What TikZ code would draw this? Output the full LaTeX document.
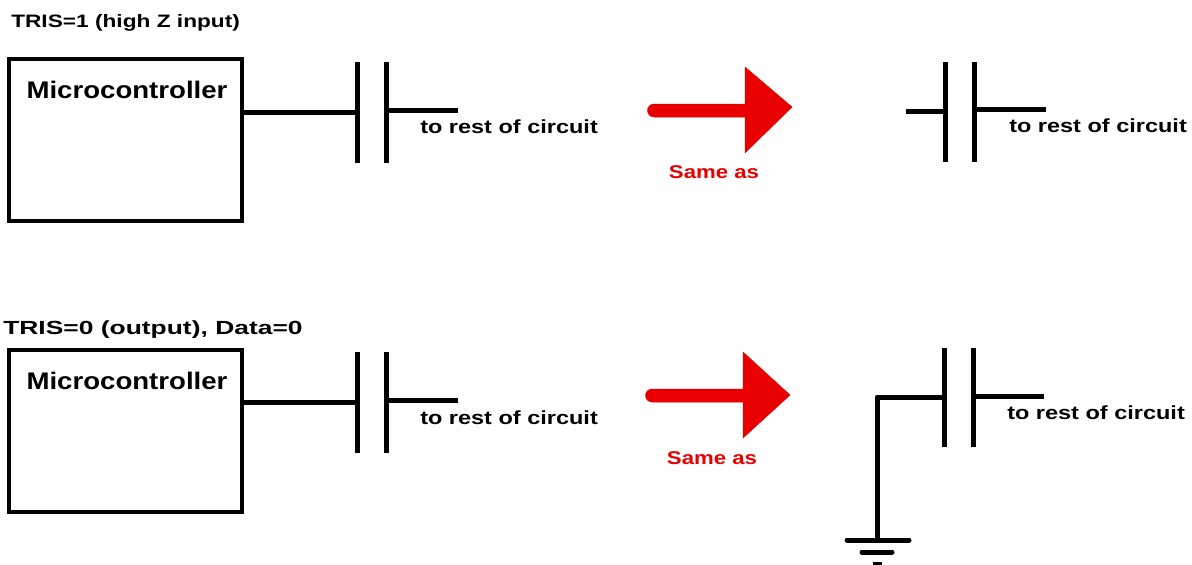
\documentclass[tikz,border=0pt]{standalone}
\usepackage{fontspec}
\setmainfont{Liberation Sans}[Scale=1.0]
\definecolor{arrowred}{HTML}{E80000}
\tikzset{
  wire/.style={line width=5pt,draw=black},
  plate/.style={line width=5pt,draw=black},
  mcubox/.style={draw=black,line width=4pt,minimum width=233pt,minimum height=162pt,inner sep=0pt},
  txt/.style={inner sep=0pt,transform shape,font=\bfseries\fontsize{#1}{#1}\selectfont},
  same/.style={text=arrowred,inner sep=0pt,font=\bfseries\fontsize{18.5}{18.5}\selectfont},
  bigarrow/.style={fill=arrowred,draw=arrowred,line width=0.5pt,line join=round}
}
\begin{document}
\begin{tikzpicture}[x=1pt,y=-1pt]
\useasboundingbox[fill=white] (0,0) rectangle (1192,565);
% titles
\node[txt=18,xscale=1.26,anchor=west] (t1) at (11,23) {TRIS=1 (high Z input)};
\node[txt=19,xscale=1.39,anchor=west] (t2) at (3,330) {TRIS=0 (output), Data=0};
% top left
\node[mcubox] (b1) at (125.5,140) {};
\node[txt=24,xscale=1.15] (m1) at (127,90) {Microcontroller};
\coordinate (p1a) at (357,62); \coordinate (p1b) at (357,163);
\coordinate (p2a) at (386,62); \coordinate (p2b) at (386,163);
\draw[plate] (p1a) -- (p1b);
\draw[plate] (p2a) -- (p2b);
\coordinate (w1) at (242,112); \coordinate (w1e) at (357,112);
\draw[wire] (w1) -- (w1e);
\coordinate (w2) at (386,110); \coordinate (w2e) at (458,110);
\draw[wire] (w2) -- (w2e);
\node[txt=19,xscale=1.237,anchor=west] (r1) at (420,127) {to rest of circuit};
% top arrow
\draw[bigarrow] (654,104) -- (745,104) -- (745,67) -- (792,107) -- (745,153) -- (745,117) -- (654,117) arc[start angle=90,end angle=270,radius=6.5pt,y radius=-6.5pt] -- cycle;
\node[same,xscale=1.2,transform shape] (s1) at (714,172) {Same as};
% top right
\coordinate (p3a) at (945,62); \coordinate (p3b) at (945,162);
\coordinate (p4a) at (974,62); \coordinate (p4b) at (974,162);
\draw[plate] (p3a) -- (p3b);
\draw[plate] (p4a) -- (p4b);
\coordinate (w3) at (906,111); \coordinate (w3e) at (945,111);
\draw[wire] (w3) -- (w3e);
\coordinate (w4) at (974,109); \coordinate (w4e) at (1046,109);
\draw[wire] (w4) -- (w4e);
\node[txt=19,xscale=1.237,anchor=west] (r2) at (1009,126) {to rest of circuit};
% bottom left
\node[mcubox] (b2) at (125.5,431) {};
\node[txt=24,xscale=1.15] (m2) at (127,380.5) {Microcontroller};
\coordinate (p5a) at (357,352); \coordinate (p5b) at (357,453);
\coordinate (p6a) at (386,352); \coordinate (p6b) at (386,453);
\draw[plate] (p5a) -- (p5b);
\draw[plate] (p6a) -- (p6b);
\coordinate (w5) at (242,402); \coordinate (w5e) at (357,402);
\draw[wire] (w5) -- (w5e);
\coordinate (w6) at (386,400); \coordinate (w6e) at (458,400);
\draw[wire] (w6) -- (w6e);
\node[txt=19,xscale=1.237,anchor=west] (r3) at (420,417.5) {to rest of circuit};
% bottom arrow
\draw[bigarrow] (652,389) -- (743,389) -- (743,352) -- (790,395) -- (743,438) -- (743,402) -- (652,402) arc[start angle=90,end angle=270,radius=6.5pt,y radius=-6.5pt] -- cycle;
\node[same,xscale=1.2,transform shape] (s2) at (712,458.5) {Same as};
% bottom right
\coordinate (p7a) at (944,348); \coordinate (p7b) at (944,447);
\coordinate (p8a) at (973,348); \coordinate (p8b) at (973,447);
\draw[plate] (p7a) -- (p7b);
\draw[plate] (p8a) -- (p8b);
\coordinate (w7) at (944,397); \coordinate (wc) at (877,397); \coordinate (g1) at (877,540);
\draw[wire,line join=round] (w7) -- (wc) -- (g1);
\coordinate (w8) at (973,396); \coordinate (w8e) at (1044,396);
\draw[wire] (w8) -- (w8e);
\node[txt=19,xscale=1.237,anchor=west] (r4) at (1007,413) {to rest of circuit};
% ground
\coordinate (g1a) at (847,540); \coordinate (g1b) at (909,540);
\coordinate (g2a) at (862,552); \coordinate (g2b) at (892,552);
\coordinate (g3a) at (873,564.5); \coordinate (g3b) at (882,564.5);
\draw[line width=5pt,line cap=round] (g1a) -- (g1b);
\draw[line width=5pt,line cap=round] (g2a) -- (g2b);
\draw[line width=5pt] (g3a) -- (g3b);
\end{tikzpicture}
\end{document}
